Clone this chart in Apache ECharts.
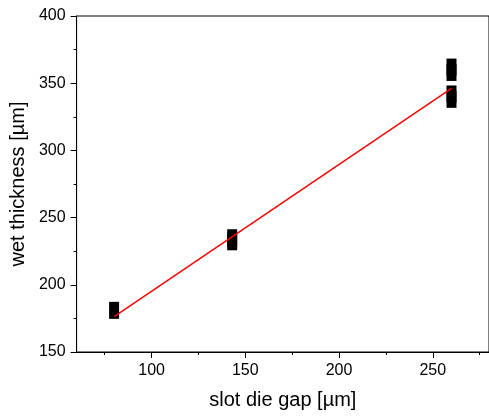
<!DOCTYPE html>
<html>
<head>
<meta charset="utf-8">
<script src="https://cdn.jsdelivr.net/npm/echarts@6/dist/echarts.min.js"></script>
<style>
  html, body { margin: 0; padding: 0; background: #fff; }
  #chart { width: 489px; height: 418px; }
</style>
</head>
<body>
<div id="chart"></div>
<script>
// measured points (slot die gap vs wet thickness)
var gap = [80, 143, 143, 260, 260, 260, 260];
var thickness = [181, 232, 235, 358, 362, 338, 342];
// linear fit line end points
var fitX = [80, 260];
var fitY = [176.3, 346.2];
// ticks
var xMajor = [100, 150, 200, 250];
var xMinor = [75, 125, 175, 225, 275];
var yMinor = [175, 225, 275, 325, 375];

var font = 'Liberation Sans, Arial, sans-serif';

var pts = gap.map(function (g, i) { return [g, thickness[i]]; });
var fit = fitX.map(function (x, i) { return [x, fitY[i]]; });

var option = {
    animation: false,
    backgroundColor: '#fff',
    grid: {
        left: 74,
        top: 16,
        bottom: 66,
        right: -4,
        show: true,
        borderColor: '#000',
        borderWidth: 1,
        backgroundColor: 'transparent'
    },
    xAxis: [{
        type: 'value',
        min: 60,
        max: 280,
        position: 'bottom',
        name: 'slot die gap [µm]',
        nameLocation: 'middle',
        nameGap: 38,
        nameTextStyle: { fontFamily: font, fontSize: 20, color: '#000' },
        axisLine: { show: true, lineStyle: { color: '#000', width: 1 } },
        axisTick: { show: true, length: 6, lineStyle: { color: '#000' }, customValues: xMajor },
        axisLabel: { fontFamily: font, fontSize: 16, color: '#000', margin: 11, customValues: xMajor },
        splitLine: { show: false }
    }, {
        // minor ticks only
        type: 'value',
        min: 60,
        max: 280,
        position: 'bottom',
        axisLine: { show: false },
        axisTick: { show: true, length: 3, lineStyle: { color: '#000' }, customValues: xMinor },
        axisLabel: { show: false },
        splitLine: { show: false }
    }],
    yAxis: [{
        type: 'value',
        min: 150,
        max: 400,
        interval: 50,
        position: 'left',
        name: 'wet thickness [µm]',
        nameLocation: 'middle',
        nameGap: 45,
        nameTextStyle: { fontFamily: font, fontSize: 20, color: '#000' },
        axisLine: { show: true, lineStyle: { color: '#000', width: 1 } },
        axisTick: { show: true, length: 6, lineStyle: { color: '#000' } },
        axisLabel: { fontFamily: font, fontSize: 16, color: '#000', margin: 11 },
        splitLine: { show: false }
    }, {
        // minor ticks only
        type: 'value',
        min: 150,
        max: 400,
        interval: 50,
        position: 'left',
        axisLine: { show: false },
        axisTick: { show: true, length: 3, lineStyle: { color: '#000' }, customValues: yMinor },
        axisLabel: { show: false },
        splitLine: { show: false }
    }],
    series: [{
        type: 'scatter',
        data: pts,
        symbol: 'rect',
        symbolSize: [10, 17],
        itemStyle: { color: '#000', opacity: 1 },
        silent: true
    }, {
        type: 'line',
        data: fit,
        showSymbol: false,
        symbol: 'none',
        lineStyle: { color: '#ff0000', width: 1.5 },
        z: 5,
        silent: true
    }]
};

var myChart = echarts.init(document.getElementById('chart'));
myChart.setOption(option);
</script>
</body>
</html>
